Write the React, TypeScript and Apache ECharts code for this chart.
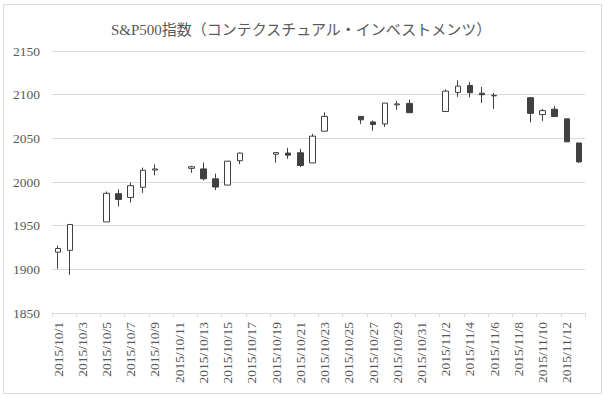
import React, { useEffect, useRef } from "react";
import * as echarts from "echarts";

const titleText = "S&P500指数（コンテクスチュアル・インベストメンツ）";

const categories = [
  "2015/10/1", "2015/10/2", "2015/10/3", "2015/10/4", "2015/10/5", "2015/10/6", "2015/10/7",
  "2015/10/8", "2015/10/9", "2015/10/10", "2015/10/11", "2015/10/12", "2015/10/13", "2015/10/14",
  "2015/10/15", "2015/10/16", "2015/10/17", "2015/10/18", "2015/10/19", "2015/10/20", "2015/10/21",
  "2015/10/22", "2015/10/23", "2015/10/24", "2015/10/25", "2015/10/26", "2015/10/27", "2015/10/28",
  "2015/10/29", "2015/10/30", "2015/10/31", "2015/11/1", "2015/11/2", "2015/11/3", "2015/11/4",
  "2015/11/5", "2015/11/6", "2015/11/7", "2015/11/8", "2015/11/9", "2015/11/10", "2015/11/11",
  "2015/11/12", "2015/11/13",
];

const tradingDates = [
  "2015/10/1", "2015/10/2", "2015/10/5", "2015/10/6", "2015/10/7", "2015/10/8", "2015/10/9",
  "2015/10/12", "2015/10/13", "2015/10/14", "2015/10/15", "2015/10/16", "2015/10/19", "2015/10/20",
  "2015/10/21", "2015/10/22", "2015/10/23", "2015/10/26", "2015/10/27", "2015/10/28", "2015/10/29",
  "2015/10/30", "2015/11/2", "2015/11/3", "2015/11/4", "2015/11/5", "2015/11/6", "2015/11/9",
  "2015/11/10", "2015/11/11", "2015/11/12", "2015/11/13",
];

const openValues = [
  1919.65, 1921.77, 1954.33, 1986.63, 1982.34, 1994.01, 2013.73,
  2015.65, 2015.0, 2003.66, 1996.47, 2024.37, 2031.73, 2033.13,
  2033.47, 2021.88, 2058.19, 2075.08, 2068.75, 2066.48, 2088.35,
  2090.0, 2080.76, 2102.63, 2110.6, 2101.68, 2098.6, 2096.56,
  2077.19, 2083.41, 2072.29, 2044.64,
];
const closeValues = [
  1923.82, 1951.36, 1987.05, 1979.92, 1995.83, 2013.43, 2014.89,
  2017.46, 2003.69, 1994.24, 2023.86, 2033.11, 2033.66, 2030.77,
  2018.94, 2052.51, 2075.15, 2071.18, 2065.89, 2090.35, 2089.41,
  2079.36, 2104.05, 2109.79, 2102.31, 2099.93, 2099.2, 2078.58,
  2081.72, 2075.0, 2045.97, 2023.04,
];
const lowValues = [
  1900.7, 1893.7, 1954.33, 1971.99, 1976.44, 1987.53, 2007.61,
  2010.55, 2001.78, 1990.73, 1996.47, 2020.46, 2022.31, 2026.61,
  2017.22, 2021.88, 2058.19, 2066.53, 2058.84, 2063.11, 2082.63,
  2079.05, 2080.76, 2097.51, 2096.98, 2090.41, 2083.74, 2068.24,
  2069.91, 2074.85, 2045.66, 2022.02,
];
const highValues = [
  1927.21, 1951.36, 1989.17, 1991.62, 1999.31, 2016.5, 2020.13,
  2018.66, 2022.34, 2009.56, 2024.15, 2033.54, 2034.45, 2039.12,
  2037.97, 2055.2, 2079.74, 2075.14, 2070.37, 2090.35, 2092.52,
  2094.32, 2106.2, 2116.48, 2114.59, 2108.78, 2101.91, 2096.56,
  2083.67, 2086.94, 2072.29, 2044.64,
];

const yMin = 1850;
const yMax = 2150;
const yInterval = 50;

const serif = "'Liberation Serif', 'Noto Sans CJK JP', serif";

export default function App() {
  const ref = useRef<HTMLDivElement>(null);

  useEffect(() => {
    if (!ref.current) return;
    const chart = echarts.init(ref.current, null, { renderer: "svg" });

    const data = categories.map((d) => {
      const i = tradingDates.indexOf(d);
      if (i < 0) return "-";
      return [openValues[i], closeValues[i], lowValues[i], highValues[i]];
    });

    chart.setOption({
      animation: false,
      backgroundColor: "#ffffff",
      title: {
        text: titleText,
        left: 296,
        top: 17,
        textAlign: "center",
        textStyle: {
          fontFamily: serif,
          fontSize: 15,
          fontWeight: "normal",
          color: "#595959",
        },
      },
      graphic: [
        {
          type: "rect",
          shape: { x: 3.5, y: 4.5, width: 598, height: 389 },
          style: { fill: "none", stroke: "#d9d9d9", lineWidth: 1 },
          silent: true,
        },
      ],
      grid: { left: 52, right: 20, top: 51, bottom: 85 },
      xAxis: {
        type: "category",
        data: categories,
        boundaryGap: true,
        axisLine: { show: true, lineStyle: { color: "#d9d9d9", width: 1 } },
        axisTick: {
          show: true,
          interval: 1,
          length: 4,
          lineStyle: { color: "#d9d9d9" },
        },
        axisLabel: {
          interval: 1,
          rotate: 90,
          margin: 9,
          fontFamily: serif,
          fontSize: 13.5,
          color: "#595959",
        },
        splitLine: { show: false },
      },
      yAxis: {
        type: "value",
        min: yMin,
        max: yMax,
        interval: yInterval,
        axisLine: { show: false },
        axisTick: { show: false },
        axisLabel: {
          margin: 12,
          fontFamily: serif,
          fontSize: 13.5,
          color: "#595959",
          formatter: (v: number) => String(v),
        },
        splitLine: { show: true, lineStyle: { color: "#d9d9d9", width: 1 } },
      },
      series: [
        {
          type: "candlestick",
          data,
          barWidth: 6,
          itemStyle: {
            color: "#ffffff",
            color0: "#404040",
            borderColor: "#404040",
            borderColor0: "#404040",
            borderWidth: 1,
          },
        },
      ],
    });

    return () => chart.dispose();
  }, []);

  return (
    <div
      ref={ref}
      style={{ position: "fixed", left: 0, top: 0, width: 605, height: 398 }}
    />
  );
}
